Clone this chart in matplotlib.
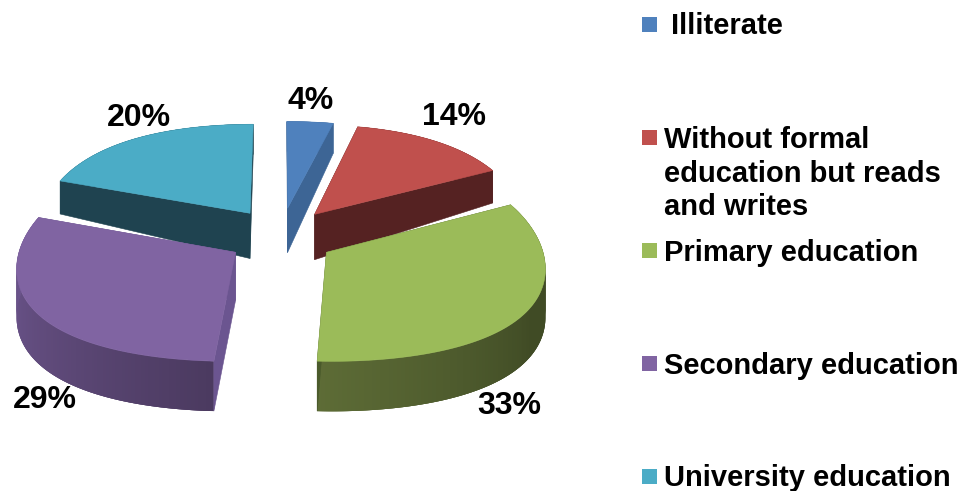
import numpy as np
from matplotlib import pyplot as plt
from matplotlib.colors import to_rgb
from matplotlib.patches import Polygon, Rectangle

categories = ["Illiterate", "Without formal\neducation but reads\nand writes", "Primary education",
              "Secondary education", "University education"]
shares = [4, 14, 33, 29, 20]

top_colors = ['#4F81BD', '#C0504D', '#9BBB59', '#8064A2', '#4BACC6']
cut_colors = ['#3D6595', '#552222', '#4A5A2B', '#6B5590', '#1F4350']
# wall colour at the start, middle and end of each slice's outer arc
wall_colors = [('#3D6595', '#3D6595', '#3D6595'),
               ('#552222', '#552222', '#552222'),
               ('#404B25', '#404B25', '#5D6C36'),
               ('#4B3A60', '#5F4A7A', '#705893'),
               ('#1F4350', '#1F4350', '#1F4350')]

# pie geometry in pixels
CX, CY = 281, 237
RADIUS = 213
EXPLODE = 54
PERSPECTIVE = 1800
# camera curve: depth on the ground plane -> screen offset from CY, and wall height
DEPTH_STEPS = [-245, -30, 50, 110, 268]
SCREEN_STEPS = [125, 16, -29, -55, -116]
HEIGHT_STEPS = [50, 48, 45, 33, 30]
camera = np.polyfit(DEPTH_STEPS, SCREEN_STEPS, 3)


def project(x, y, drop=False):
    # ground plane to screen, y pointing away from the viewer
    s = 1 / (1 + y / PERSPECTIVE)
    sx = CX + x * s
    sy = CY + np.polyval(camera, y)
    if drop:
        sy = sy + np.interp(y, DEPTH_STEPS, HEIGHT_STEPS)
    return np.column_stack([sx, sy])


def rim(a0, a1, ox, oy, n):
    ang = np.radians(np.linspace(a0, a1, n))
    return ox + RADIUS * np.sin(ang), oy + RADIUS * np.cos(ang)


fig = plt.figure(figsize=(9.61, 4.91), dpi=100)
ax = fig.add_axes([0, 0, 1, 1])
ax.set_xlim(0, 961)
ax.set_ylim(491, 0)
ax.axis('off')

edges = np.cumsum([0] + shares) / sum(shares) * 360

slices = []
for i in range(len(shares)):
    a0, a1 = edges[i], edges[i + 1]
    mid = np.radians((a0 + a1) / 2)
    slices.append((i, a0, a1, EXPLODE * np.sin(mid), EXPLODE * np.cos(mid)))

# back slices first, the two front ones paint over them
for i, a0, a1, ox, oy in [slices[k] for k in (4, 0, 1, 3, 2)]:
    xs, ys = rim(a0, a1, ox, oy, 120)

    # outer wall: thin overlapping strips for the shading
    top_edge = project(xs, ys)
    low_edge = project(xs, ys, drop=True)
    stops = np.array([to_rgb(c) for c in wall_colors[i]])
    for j in range(len(xs) - 1):
        t = j / (len(xs) - 2)
        col = [np.interp(t, [0, 0.45, 1], stops[:, c]) for c in range(3)]
        quad = np.vstack([top_edge[j:j + 4], low_edge[j:j + 4][::-1]])
        ax.add_patch(Polygon(quad, facecolor=col, edgecolor='none'))

    # the two cut faces, straight from the apex to the rim
    apex_x, apex_y = np.array([ox]), np.array([oy])
    for k in (0, -1):
        px = np.array([ox, xs[k]])
        py = np.array([oy, ys[k]])
        face = np.vstack([project(px, py), project(px, py, drop=True)[::-1]])
        ax.add_patch(Polygon(face, facecolor=cut_colors[i], edgecolor=cut_colors[i], linewidth=0.4))

    # top surface
    top = project(np.r_[apex_x, xs], np.r_[apex_y, ys])
    ax.add_patch(Polygon(top, facecolor=top_colors[i], edgecolor=top_colors[i], linewidth=0.4))

# percentage labels
label_x = [287, 422, 477, 13, 107]
label_y = [109, 125, 414, 408, 126]
for val, x, y in zip(shares, label_x, label_y):
    ax.text(x, y, f"{val}%", fontsize=23, fontweight='bold', family='Liberation Sans',
            ha='left', va='baseline', color='black')

# legend
legend_x = [671, 664, 664, 664, 664]
legend_y = [34, 148, 261, 374, 486.5]
swatch_y = [17, 130, 243, 356, 469]
for name, col, tx, ty, sy in zip(categories, top_colors, legend_x, legend_y, swatch_y):
    ax.add_patch(Rectangle((642, sy), 15, 15, facecolor=col, edgecolor='none'))
    for n, line in enumerate(name.split("\n")):
        ax.text(tx, ty + n * 33.5, line, fontsize=21, fontweight='bold', family='Liberation Sans',
                ha='left', va='baseline', color='black')

plt.savefig('out.png', dpi=100)
